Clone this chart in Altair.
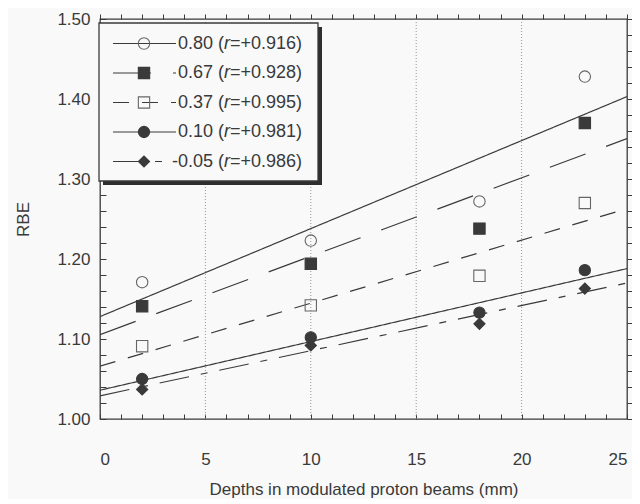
import altair as alt
import pandas as pd

# ---- data ----
series = ["0.80", "0.67", "0.37", "0.10", "-0.05"]
r_text = ["+0.916", "+0.928", "+0.995", "+0.981", "+0.986"]
depths = [2, 10, 18, 23]
rbe_080 = [1.171, 1.223, 1.272, 1.428]
rbe_067 = [1.141, 1.194, 1.238, 1.370]
rbe_037 = [1.091, 1.142, 1.179, 1.270]
rbe_010 = [1.050, 1.102, 1.133, 1.186]
rbe_m005 = [1.037, 1.092, 1.119, 1.163]
fit_depths = [0, 25]
fit_080 = [1.128, 1.403]
fit_067 = [1.1055, 1.3505]
fit_037 = [1.066, 1.263]
fit_010 = [1.036, 1.188]
fit_m005 = [1.029, 1.170]
x_label_values = [0, 5, 10, 15, 20, 25]
x_grid_values = [5, 10, 15, 20]
x_tick_values = list(range(0, 26))
y_label_values = [1.00, 1.10, 1.20, 1.30, 1.40, 1.50]
y_tick_values = [round(1.0 + 0.02 * i, 2) for i in range(26)]

points_by_series = [rbe_080, rbe_067, rbe_037, rbe_010, rbe_m005]
fits_by_series = [fit_080, fit_067, fit_037, fit_010, fit_m005]

pts_df = pd.DataFrame(
    [{"series": s, "depth": d, "rbe": v}
     for s, vals in zip(series, points_by_series) for d, v in zip(depths, vals)]
)
fit_df = pd.DataFrame(
    [{"series": s, "depth": d, "rbe": v}
     for s, vals in zip(series, fits_by_series) for d, v in zip(fit_depths, vals)]
)
legend_df = pd.DataFrame(
    {"series": series, "idx": list(range(len(series))),
     "prefix": [s + " (" for s in series],
     "suffix": ["=" + r + ")" for r in r_text]}
)
grid_df = pd.DataFrame({"depth": x_grid_values})

# ---- style ----
W, H = 527, 400
DARK = "#3a3a3a"
OPEN = "#666666"
BG = "#f9f9f9"
FONT = "Liberation Sans"

xscale = alt.Scale(domain=[0, 25], nice=False, zero=False)
yscale = alt.Scale(domain=[1.0, 1.5], nice=False, zero=False)
shape_scale = alt.Scale(domain=series, range=["circle", "square", "square", "circle", "diamond"])
fill_scale = alt.Scale(domain=series, range=["transparent", DARK, "transparent", DARK, DARK])
stroke_scale = alt.Scale(domain=series, range=[OPEN, DARK, OPEN, DARK, DARK])
size_scale = alt.Scale(domain=series, range=[130, 125, 125, 130, 100])
dash_scale = alt.Scale(domain=series, range=[[1, 0], [38, 22], [16, 13], [1, 0], [30, 12, 7, 12]])

no_axis_common = dict(labels=False, domain=False, grid=False, title=None,
                      tickColor=DARK, tickWidth=1, ticks=True)

# grid lines (dotted verticals)
grid = alt.Chart(grid_df).mark_rule(color="#8a8a8a", strokeWidth=0.9, strokeDash=[1, 2]).encode(
    x=alt.X("depth:Q", scale=xscale, axis=None)
)

# fitted lines with the labelled axes
lines = alt.Chart(fit_df).mark_line(color=DARK, strokeWidth=1.2, clip=True).encode(
    x=alt.X("depth:Q", scale=xscale,
            axis=alt.Axis(orient="bottom", values=x_label_values, format="d", ticks=False,
                          domain=False, grid=False, labelPadding=32, labelFontSize=17,
                          labelFont=FONT, labelColor=DARK,
                          title="Depths in modulated proton beams (mm)", titleFont=FONT,
                          titleFontSize=17, titleFontWeight="normal", titleColor=DARK,
                          titlePadding=14)),
    y=alt.Y("rbe:Q", scale=yscale,
            axis=alt.Axis(orient="left", values=y_label_values, format=".2f", ticks=False,
                          domain=False, grid=False, labelPadding=10, labelFontSize=17,
                          labelFont=FONT, labelColor=DARK, title="RBE", titleFont=FONT,
                          titleFontSize=17, titleFontWeight="normal", titleColor=DARK,
                          titlePadding=24)),
    detail="series:N",
    strokeDash=alt.StrokeDash("series:N", scale=dash_scale, legend=None),
)

# data points, with the top / right inward ticks
points = alt.Chart(pts_df).mark_point(strokeWidth=1.1, opacity=1).encode(
    x=alt.X("depth:Q", scale=xscale,
            axis=alt.Axis(orient="top", values=x_tick_values, tickSize=5, **no_axis_common)),
    y=alt.Y("rbe:Q", scale=yscale,
            axis=alt.Axis(orient="right", values=y_tick_values, tickSize=6, **no_axis_common)),
    shape=alt.Shape("series:N", scale=shape_scale, legend=None),
    fill=alt.Fill("series:N", scale=fill_scale, legend=None),
    stroke=alt.Stroke("series:N", scale=stroke_scale, legend=None),
    size=alt.Size("series:N", scale=size_scale, legend=None),
)

# invisible layer carrying the bottom / left inward ticks
ticks_bl = alt.Chart(pts_df).mark_point(opacity=0).encode(
    x=alt.X("depth:Q", scale=xscale,
            axis=alt.Axis(orient="top", offset=-H, values=x_tick_values, tickSize=5,
                          **no_axis_common)),
    y=alt.Y("rbe:Q", scale=yscale,
            axis=alt.Axis(orient="right", offset=-W, values=y_tick_values, tickSize=6,
                          **no_axis_common)),
)

# ---- legend box ----
one = alt.Data(values=[{"k": 1}])
shadow = alt.Chart(one).mark_rect(fill="#2e2e2e").encode(
    x=alt.value(3), x2=alt.value(222), y=alt.value(8), y2=alt.value(166)
)
box = alt.Chart(one).mark_rect(fill=BG, stroke=DARK, strokeWidth=1.3).encode(
    x=alt.value(-1), x2=alt.value(218), y=alt.value(4), y2=alt.value(162)
)
leg_base = alt.Chart(legend_df).transform_calculate(ypix="24.5 + 29.5 * datum.idx")
leg_y = alt.Y("ypix:Q", scale=None, axis=None)
leg_lines = leg_base.mark_rule(color=DARK, strokeWidth=1.2).encode(
    x=alt.value(13), x2=alt.value(76), y=leg_y,
    strokeDash=alt.StrokeDash("series:N", scale=dash_scale, legend=None),
)
leg_syms = leg_base.mark_point(strokeWidth=1.1, opacity=1).encode(
    x=alt.value(44), y=leg_y,
    shape=alt.Shape("series:N", scale=shape_scale, legend=None),
    fill=alt.Fill("series:N", scale=fill_scale, legend=None),
    stroke=alt.Stroke("series:N", scale=stroke_scale, legend=None),
    size=alt.Size("series:N", scale=size_scale, legend=None),
)
PX = 124
txt = dict(font=FONT, fontSize=18, color=DARK, baseline="middle")
leg_pre = leg_base.mark_text(align="right", **txt).encode(
    x=alt.value(PX), y=leg_y, text="prefix:N")
leg_r = leg_base.mark_text(align="left", fontStyle="italic", **txt).encode(
    x=alt.value(PX), y=leg_y, text=alt.value("r"))
leg_suf = leg_base.mark_text(align="left", **txt).encode(
    x=alt.value(PX + 6), y=leg_y, text="suffix:N")

chart = alt.layer(
    grid, lines, points, ticks_bl, shadow, box, leg_lines, leg_syms, leg_pre, leg_r, leg_suf
).resolve_scale(
    y="independent"
).resolve_axis(
    x="independent", y="independent"
).properties(
    width=W, height=H,
    padding={"left": 92, "top": 11, "right": 5, "bottom": 80},
    autosize=alt.AutoSizeParams(type="none"),
    background=BG,
).configure_view(stroke=DARK, strokeWidth=1.3)

chart.save("out.html", embed_options={"renderer": "svg", "actions": False})
